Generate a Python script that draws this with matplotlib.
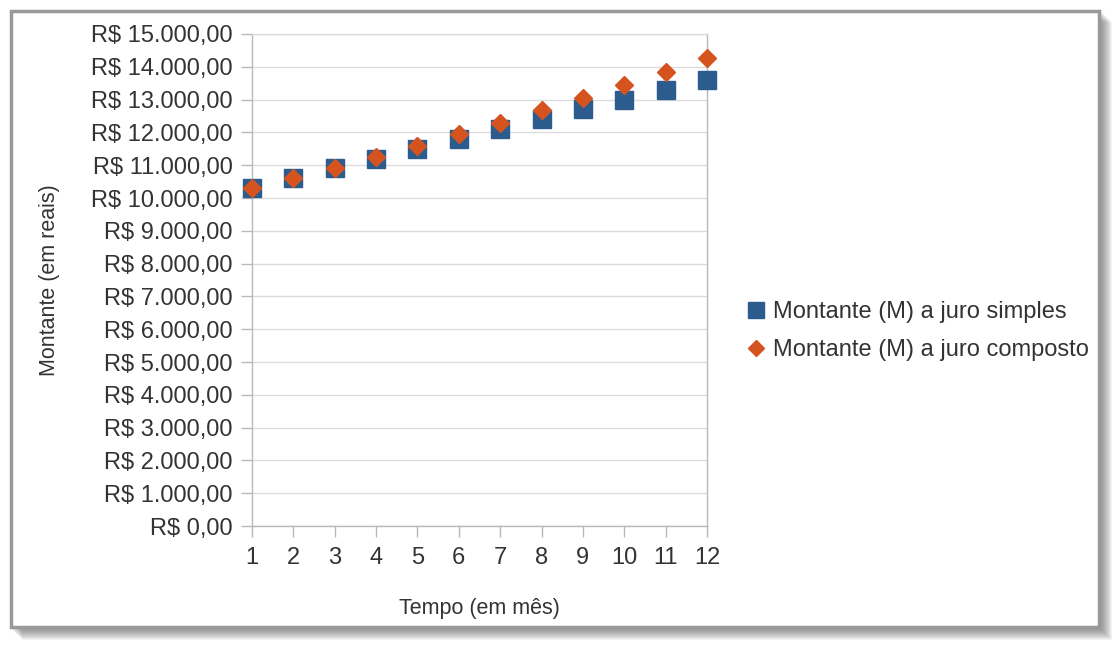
import matplotlib
matplotlib.use("Agg")
import matplotlib.pyplot as plt
from matplotlib.patches import Rectangle
from matplotlib.ticker import FuncFormatter

# Dados
meses = [1, 2, 3, 4, 5, 6, 7, 8, 9, 10, 11, 12]
juro_simples = [10300, 10600, 10900, 11200, 11500, 11800, 12100, 12400, 12700, 13000, 13300, 13600]
juro_composto = [10300, 10609, 10927, 11255, 11593, 11941, 12299, 12668, 13048, 13439, 13842, 14258]
nome_simples = "Montante (M) a juro simples"
nome_composto = "Montante (M) a juro composto"

plt.rcParams['font.family'] = ['Liberation Sans', 'DejaVu Sans']

azul = '#2c5b8d'
laranja = '#d5531f'
cinza_texto = '#333333'
cinza_linha = '#b8b8b8'

fig = plt.figure(figsize=(11.2, 6.49), dpi=100)
fig.patch.set_facecolor('white')

# moldura com sombra (como uma imagem colada)
W, H = 1120, 649
def px(x0, y0, x1, y1):
    # retangulo em pixels (y de cima para baixo) -> fracao da figura
    return (x0 / W, 1 - y1 / H), (x1 - x0) / W, (y1 - y0) / H

for i in range(12, 0, -1):
    (x, y), w, h = px(10 + i, 10 + i, 1100 + i, 628 + i)
    fig.patches.append(Rectangle((x, y), w, h, transform=fig.transFigure,
                                 facecolor='#555555', edgecolor='none',
                                 alpha=0.07, zorder=0))
(x, y), w, h = px(11, 11, 1099, 627)
fig.patches.append(Rectangle((x, y), w, h, transform=fig.transFigure,
                             facecolor='white', edgecolor='#999999',
                             linewidth=2.5, zorder=1))

ax = fig.add_axes([252 / W, 1 - 526 / H, (707 - 252) / W, (526 - 34) / H])
ax.set_zorder(2)
ax.set_facecolor('none')

ax.plot(meses, juro_simples, linestyle='none', marker='s', markersize=13.5,
        color=azul, label=nome_simples, zorder=3, clip_on=False)
ax.plot(meses, juro_composto, linestyle='none', marker='D', markersize=9.5,
        color=laranja, label=nome_composto, zorder=4, clip_on=False)

ax.set_xlim(1, 12)
ax.set_ylim(0, 15000)
ax.set_xticks(meses)
ax.set_yticks(range(0, 15001, 1000))

def reais(v, pos):
    s = f"{v:,.2f}".replace(",", "X").replace(".", ",").replace("X", ".")
    return "R$ " + s

ax.yaxis.set_major_formatter(FuncFormatter(reais))
ax.grid(axis='y', color='#dcdcdc', linewidth=1)
ax.set_axisbelow(True)
for lado in ['left', 'right', 'top', 'bottom']:
    ax.spines[lado].set_color(cinza_linha)
    ax.spines[lado].set_linewidth(1)
ax.spines['top'].set_color('#dcdcdc')

ax.tick_params(axis='both', colors=cinza_linha, labelcolor=cinza_texto,
               labelsize=17, length=8, width=1)
ax.tick_params(axis='x', pad=7)
ax.tick_params(axis='y', pad=6)

ax.set_xlabel("Tempo (em mês)", fontsize=15.5, color=cinza_texto, labelpad=21)
ax.set_ylabel("Montante (em reais)", fontsize=15.5, color=cinza_texto, labelpad=22)

fig.legend(loc='center left', bbox_to_anchor=(748 / W, 1 - 331 / H),
           frameon=False, fontsize=17, handlelength=0.7, handletextpad=0.35,
           labelspacing=0.68, markerscale=0.85, labelcolor=cinza_texto,
           borderaxespad=0, borderpad=0)

fig.savefig("out.png", dpi=100)
